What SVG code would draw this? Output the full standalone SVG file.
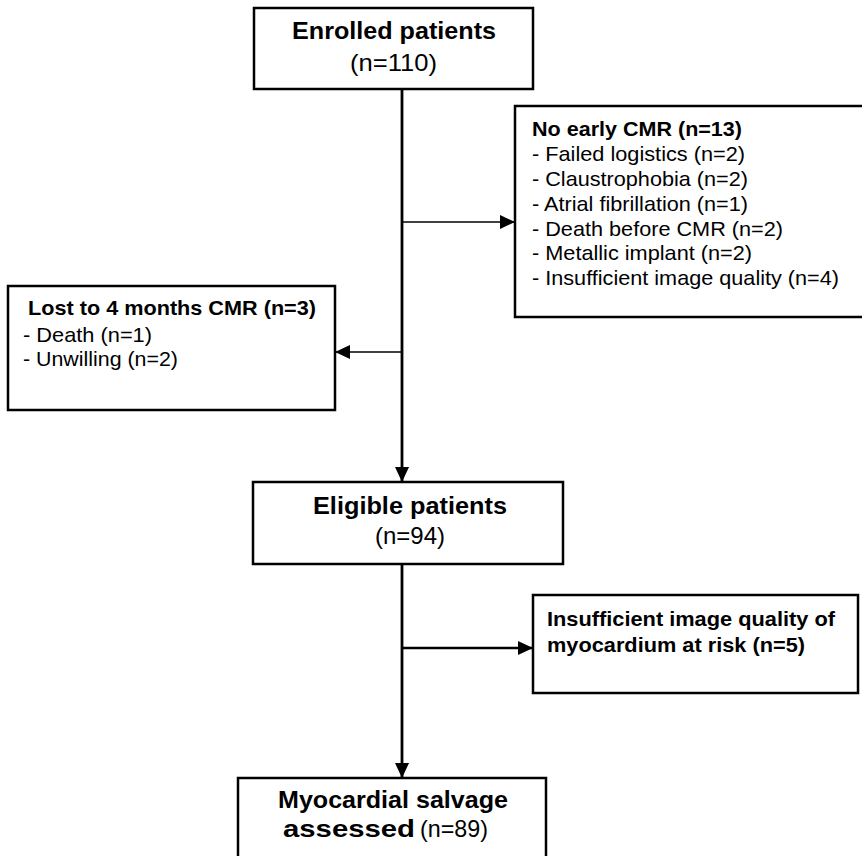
<svg xmlns="http://www.w3.org/2000/svg" width="862" height="856" viewBox="0 0 862 856">
<style>
.box{fill:#fff;stroke:#000;stroke-width:2.5}
text{font-family:"Liberation Sans",Arial,sans-serif;fill:#000}
.b{font-weight:bold}
.t{font-size:24px}
.s{font-size:21px}
.c{stroke:#000;fill:none}
</style>
<defs>
<marker id="ah" markerUnits="userSpaceOnUse" markerWidth="18" markerHeight="18" refX="16" refY="9" orient="auto">
<path d="M1,2 L16,9 L1,16 z" fill="#000"/>
</marker>
</defs>
<rect width="862" height="856" fill="#fff"/>
<g id="connectors">
<line class="c" x1="402" y1="89" x2="402" y2="482" stroke-width="2.8" marker-end="url(#ah)"/>
<line class="c" x1="402" y1="222" x2="515" y2="222" stroke-width="1.5" marker-end="url(#ah)"/>
<line class="c" x1="402" y1="352" x2="335" y2="352" stroke-width="1.5" marker-end="url(#ah)"/>
<line class="c" x1="402" y1="564" x2="402" y2="778" stroke-width="2.8" marker-end="url(#ah)"/>
<line class="c" x1="402" y1="648" x2="533" y2="648" stroke-width="2.4" marker-end="url(#ah)"/>
</g>
<g id="enrolled">
<rect class="box" x="254" y="8" width="279" height="81"/>
<text class="b t" x="292" y="39" textLength="204" lengthAdjust="spacingAndGlyphs">Enrolled patients</text>
<text class="t" x="350" y="71" textLength="87" lengthAdjust="spacingAndGlyphs">(n=110)</text>
</g>
<g id="no-early-cmr">
<rect class="box" x="515" y="106" width="360" height="211"/>
<text class="b s" x="532" y="136" textLength="210" lengthAdjust="spacingAndGlyphs">No early CMR (n=13)</text>
<text class="s" x="532" y="161" textLength="213" lengthAdjust="spacingAndGlyphs">- Failed logistics (n=2)</text>
<text class="s" x="532" y="186" textLength="216" lengthAdjust="spacingAndGlyphs">- Claustrophobia (n=2)</text>
<text class="s" x="532" y="211" textLength="216" lengthAdjust="spacingAndGlyphs">- Atrial fibrillation (n=1)</text>
<text class="s" x="532" y="236" textLength="251" lengthAdjust="spacingAndGlyphs">- Death before CMR (n=2)</text>
<text class="s" x="532" y="260" textLength="220" lengthAdjust="spacingAndGlyphs">- Metallic implant (n=2)</text>
<text class="s" x="532" y="285" textLength="307" lengthAdjust="spacingAndGlyphs">- Insufficient image quality (n=4)</text>
</g>
<g id="lost">
<rect class="box" x="8" y="286" width="327" height="124"/>
<text class="b s" x="28" y="315" textLength="288" lengthAdjust="spacingAndGlyphs">Lost to 4 months CMR (n=3)</text>
<text class="s" x="23" y="342" textLength="129" lengthAdjust="spacingAndGlyphs">- Death (n=1)</text>
<text class="s" x="23" y="366" textLength="155" lengthAdjust="spacingAndGlyphs">- Unwilling (n=2)</text>
</g>
<g id="eligible">
<rect class="box" x="253" y="482" width="310" height="82"/>
<text class="b t" x="313" y="514" textLength="194" lengthAdjust="spacingAndGlyphs">Eligible patients</text>
<text class="t" x="375" y="544" textLength="70" lengthAdjust="spacingAndGlyphs">(n=94)</text>
</g>
<g id="insufficient">
<rect class="box" x="533" y="595" width="325" height="98"/>
<text class="b s" x="547" y="626" textLength="288" lengthAdjust="spacingAndGlyphs">Insufficient image quality of</text>
<text class="b s" x="547" y="652" textLength="258" lengthAdjust="spacingAndGlyphs">myocardium at risk (n=5)</text>
</g>
<g id="salvage">
<rect class="box" x="238" y="778" width="308" height="100"/>
<text class="b t" x="278" y="808" textLength="230" lengthAdjust="spacingAndGlyphs">Myocardial salvage</text>
<text class="b t" x="283" y="837" textLength="132" lengthAdjust="spacingAndGlyphs">assessed</text>
<text class="t" x="420" y="837" textLength="68" lengthAdjust="spacingAndGlyphs">(n=89)</text>
</g>
</svg>
